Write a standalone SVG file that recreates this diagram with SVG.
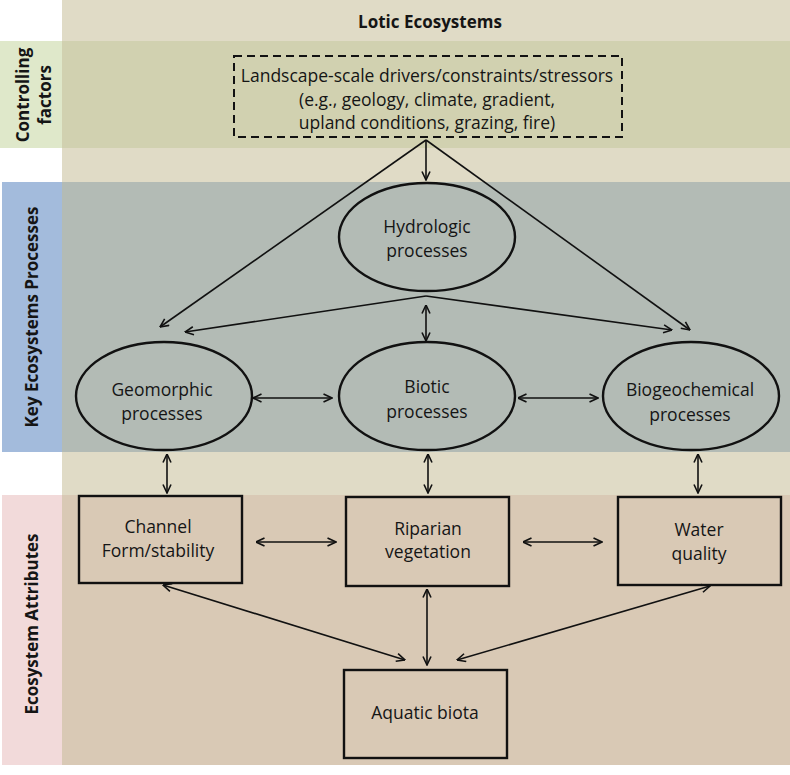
<svg xmlns="http://www.w3.org/2000/svg" width="790" height="775" viewBox="0 0 790 775">
<style>
text{font-family:"Open Sans","Liberation Sans",sans-serif;font-size:17.5px;fill:#151515;text-anchor:middle}
.lbl{font-weight:bold;font-size:17px}
.node{fill:none;stroke:#111;stroke-width:2.4}
.conn line,.conn polyline{stroke:#111;stroke-width:1.6;fill:none}
</style>
<defs>
<marker id="ah" viewBox="0 0 10 10" refX="9.5" refY="5" markerWidth="10" markerHeight="10" markerUnits="userSpaceOnUse" orient="auto-start-reverse">
<path d="M1,1 L9.5,5 L1,9" fill="none" stroke="#111" stroke-width="1.6"/>
</marker>
</defs>
<rect width="790" height="775" fill="#ffffff"/>
<!-- bands -->
<rect x="62" y="0" width="728" height="765" fill="#e0dbc6"/>
<rect x="62" y="41" width="728" height="107" fill="#d1d1b0"/>
<rect x="0" y="41" width="62" height="107" fill="#dfe8ca"/>
<rect x="62" y="182" width="728" height="270" fill="#b3bbb5"/>
<rect x="2" y="182" width="60" height="270" fill="#a3bbdc"/>
<rect x="62" y="495" width="728" height="270" fill="#d9c9b5"/>
<rect x="2" y="495" width="60" height="270" fill="#f2dada"/>
<text class="lbl" x="430" y="28">Lotic Ecosystems</text>
<text class="lbl" transform="translate(29,95) rotate(-90)">Controlling</text>
<text class="lbl" transform="translate(51,95) rotate(-90)">factors</text>
<text class="lbl" transform="translate(38,317) rotate(-90)">Key Ecosystems Processes</text>
<text class="lbl" transform="translate(38,624) rotate(-90)">Ecosystem Attributes</text>
<!-- connectors -->
<g class="conn" id="connectors">
<line x1="426" y1="140" x2="426" y2="180" marker-end="url(#ah)"/>
<line x1="426" y1="140" x2="160" y2="327" marker-end="url(#ah)"/>
<line x1="426" y1="140" x2="690" y2="330" marker-end="url(#ah)"/>
<line x1="426" y1="296" x2="185" y2="332" marker-end="url(#ah)"/>
<line x1="426" y1="296" x2="672" y2="330" marker-end="url(#ah)"/>
<line x1="426" y1="305" x2="426" y2="341" marker-start="url(#ah)" marker-end="url(#ah)"/>
<line x1="253" y1="398" x2="332" y2="398" marker-start="url(#ah)" marker-end="url(#ah)"/>
<line x1="518" y1="398" x2="598" y2="398" marker-start="url(#ah)" marker-end="url(#ah)"/>
<line x1="167" y1="454" x2="167" y2="493" marker-start="url(#ah)" marker-end="url(#ah)"/>
<line x1="428" y1="454" x2="428" y2="493" marker-start="url(#ah)" marker-end="url(#ah)"/>
<line x1="698" y1="454" x2="698" y2="493" marker-start="url(#ah)" marker-end="url(#ah)"/>
<line x1="256" y1="542" x2="336" y2="542" marker-start="url(#ah)" marker-end="url(#ah)"/>
<line x1="523" y1="542" x2="602" y2="542" marker-start="url(#ah)" marker-end="url(#ah)"/>
<line x1="163" y1="585" x2="405" y2="660" marker-start="url(#ah)" marker-end="url(#ah)"/>
<line x1="427" y1="589" x2="427" y2="665" marker-start="url(#ah)" marker-end="url(#ah)"/>
<line x1="710" y1="586" x2="457" y2="660" marker-start="url(#ah)" marker-end="url(#ah)"/>
</g>
<!-- nodes -->
<g id="drivers">
<rect x="234" y="56" width="388" height="81" fill="none" stroke="#111" stroke-width="2" stroke-dasharray="8,5"/>
<text x="427" y="82">Landscape-scale drivers/constraints/stressors</text>
<text x="427" y="106">(e.g., geology, climate, gradient,</text>
<text x="427" y="129">upland conditions, grazing, fire)</text>
</g>
<g id="hydrologic">
<ellipse class="node" cx="427" cy="237" rx="88" ry="54"/>
<text x="427" y="233">Hydrologic</text>
<text x="427" y="257">processes</text>
</g>
<g id="geomorphic">
<ellipse class="node" cx="164" cy="396" rx="88" ry="54"/>
<text x="162" y="396">Geomorphic</text>
<text x="162" y="420">processes</text>
</g>
<g id="biotic">
<ellipse class="node" cx="427" cy="396" rx="88" ry="54"/>
<text x="427" y="393">Biotic</text>
<text x="427" y="418">processes</text>
</g>
<g id="biogeochemical">
<ellipse class="node" cx="691" cy="396" rx="88" ry="54"/>
<text x="690" y="396">Biogeochemical</text>
<text x="690" y="421">processes</text>
</g>
<g id="channel">
<rect class="node" x="79" y="496" width="163" height="87"/>
<text x="158" y="533">Channel</text>
<text x="158" y="557">Form/stability</text>
</g>
<g id="riparian">
<rect class="node" x="346" y="497" width="163" height="89"/>
<text x="428" y="535">Riparian</text>
<text x="428" y="558">vegetation</text>
</g>
<g id="water">
<rect class="node" x="618" y="497" width="163" height="88"/>
<text x="699" y="536">Water</text>
<text x="699" y="560">quality</text>
</g>
<g id="aquatic">
<rect class="node" x="344" y="670" width="163" height="88"/>
<text x="425" y="719">Aquatic biota</text>
</g>
</svg>
